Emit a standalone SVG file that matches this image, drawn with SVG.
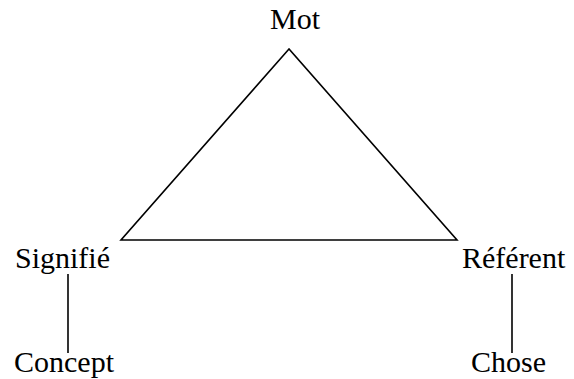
<svg xmlns="http://www.w3.org/2000/svg" width="574" height="379" viewBox="0 0 574 379">
<style>
text{font-family:"Liberation Serif","Times New Roman",serif;font-size:30px;fill:#000}
.ln{stroke:#000;stroke-width:1.6;fill:none}
</style>
<rect width="574" height="379" fill="#fff"/>
<g id="connectors">
<polygon class="ln" points="289,49 121,240 457,240"/>
<line class="ln" x1="68" y1="274" x2="68" y2="353"/>
<line class="ln" x1="512" y1="274" x2="512" y2="353"/>
</g>
<g id="mot"><text x="270" y="29">Mot</text></g>
<g id="signifie"><text x="15" y="268">Signifié</text></g>
<g id="referent"><text x="462" y="268">Référent</text></g>
<g id="concept"><text x="14" y="372">Concept</text></g>
<g id="chose"><text x="471" y="372">Chose</text></g>
</svg>
